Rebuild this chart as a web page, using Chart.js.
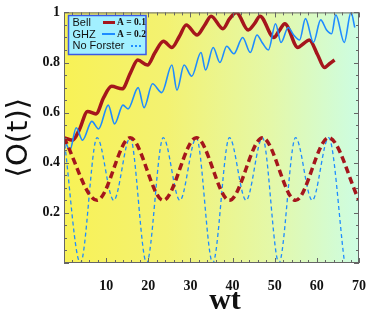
<!DOCTYPE html>
<html>
<head>
<meta charset="utf-8">
<script src="https://cdn.jsdelivr.net/npm/chart.js@4.4.0/dist/chart.umd.min.js"></script>
<style>
  body { margin: 0; background: #fff; }
  canvas { display: block; }
</style>
</head>
<body>
<canvas id="myChart" width="381" height="314"></canvas>
<script>
// Bell state, A = 0.1 (thick dark red line)
var bellT = [0, 2.0, 3.6, 5.6, 7.6, 9.4, 11.3, 13.8, 15.8, 17.5, 19.8, 21.6, 23.6, 25.6, 27.4, 29.0, 31.6, 33.4, 34.9, 37.7, 39.3, 40.9, 43.7, 45.2, 46.5, 49.8, 51.0, 52.4, 55.5, 56.8, 58.2, 60.2, 61.8, 63.0, 64.2];
var bellV = [0.5, 0.49, 0.53, 0.605, 0.595, 0.66, 0.705, 0.695, 0.76, 0.81, 0.79, 0.84, 0.885, 0.86, 0.905, 0.95, 0.91, 0.95, 0.985, 0.935, 0.975, 1.0, 0.93, 0.955, 0.985, 0.90, 0.925, 0.955, 0.86, 0.875, 0.89, 0.83, 0.78, 0.795, 0.81];

// GHZ state, A = 0.2 (thin blue line)
var ghzT = [0, 1.4, 2.9, 4.4, 6.6, 8.2, 10.5, 12.0, 14.0, 15.2, 17.6, 19.0, 21.0, 23.2, 25.6, 26.8, 28.5, 30.3, 32.5, 33.6, 35.4, 37.0, 38.6, 40.3, 42.4, 44.2, 45.8, 47.0, 48.5, 50.2, 51.5, 53.2, 54.5, 55.9, 57.3, 59.2, 60.9, 62.3, 63.5, 64.5, 66.5, 68.1, 69.0];
var ghzV = [0.5, 0.45, 0.54, 0.49, 0.565, 0.535, 0.63, 0.555, 0.63, 0.615, 0.70, 0.62, 0.715, 0.68, 0.79, 0.69, 0.79, 0.745, 0.84, 0.77, 0.86, 0.80, 0.865, 0.835, 0.90, 0.84, 0.91, 0.88, 0.85, 0.955, 0.88, 0.94, 0.91, 0.89, 0.975, 0.88, 0.97, 0.93, 0.915, 0.99, 0.88, 1.0, 0.94];

// Bell state, no Forster (thick dark red dashes)
var bellNfT = [0, 7.85, 15.7, 23.55, 31.4, 39.25, 47.1, 54.95, 62.8, 70];
var bellNfV = [0.5, 0.25, 0.5, 0.25, 0.5, 0.25, 0.5, 0.25, 0.5, 0.25];

// GHZ state, no Forster (thin blue dashes)
var ghzNfT = [0, 3.9, 7.85, 11.8, 15.7, 19.6, 23.55, 27.5, 31.4, 35.3, 39.25, 43.2, 47.1, 51.0, 54.95, 58.9, 62.8, 66.5];
var ghzNfV = [0.5, 0, 0.5, 0.25, 0.5, 0, 0.5, 0.25, 0.5, 0, 0.5, 0.25, 0.5, 0, 0.5, 0.25, 0.5, 0.01];

var xTicks = [10, 20, 30, 40, 50, 60, 70];
var yTicks = [0.2, 0.4, 0.6, 0.8, 1];

var darkRed = '#a5161c';
var blue = '#1e8cff';

function pts(ts, vs) {
  return ts.map(function (t, i) { return { x: t, y: vs[i] }; });
}

// yellow -> mint background of the plot area
var bgPlugin = {
  id: 'bg',
  beforeDraw: function (chart) {
    var ctx = chart.ctx, a = chart.chartArea;
    ctx.save();
    ctx.fillStyle = '#fff';
    ctx.fillRect(0, 0, chart.width, chart.height);
    var g = ctx.createLinearGradient(a.left, 0, a.right, 0);
    g.addColorStop(0, '#f8f256');
    g.addColorStop(0.35, '#f3f272');
    g.addColorStop(0.7, '#e4f8a8');
    g.addColorStop(1, '#cdfde2');
    ctx.fillStyle = g;
    ctx.fillRect(a.left, a.top, a.right - a.left, a.bottom - a.top);
    ctx.restore();
  }
};

// frame with inward ticks on all sides, x title, legend box
var framePlugin = {
  id: 'frame',
  afterDatasetsDraw: function (chart) {
    var ctx = chart.ctx, a = chart.chartArea;
    var xs = chart.scales.x, ys = chart.scales.y;
    ctx.save();
    ctx.strokeStyle = '#666';
    ctx.lineWidth = 1;
    ctx.beginPath();
    var i, p, len;
    for (i = 0; i <= 35; i++) {
      p = Math.round(xs.getPixelForValue(i * 2)) + 0.5;
      len = (i % 5 === 0) ? 5 : 3;
      ctx.moveTo(p, a.bottom); ctx.lineTo(p, a.bottom - len);
      ctx.moveTo(p, a.top); ctx.lineTo(p, a.top + len);
    }
    for (i = 0; i <= 20; i++) {
      p = Math.round(ys.getPixelForValue(i * 0.05)) + 0.5;
      len = (i % 4 === 0) ? 5 : 3;
      ctx.moveTo(a.left, p); ctx.lineTo(a.left + len, p);
      ctx.moveTo(a.right, p); ctx.lineTo(a.right - len, p);
    }
    ctx.stroke();
    ctx.strokeRect(a.left + 0.5, a.top + 0.5, a.right - a.left - 1, a.bottom - a.top - 1);

    // x axis title
    ctx.fillStyle = '#111';
    ctx.textAlign = 'center';
    ctx.textBaseline = 'alphabetic';
    ctx.font = 'bold 30px "Liberation Serif"';
    ctx.fillText('wt', 225, 309);

    // legend
    ctx.fillStyle = '#a2f0ff';
    ctx.fillRect(68.5, 15.5, 77.5, 39);
    ctx.strokeStyle = '#3a5ae6';
    ctx.lineWidth = 1.5;
    ctx.strokeRect(68.5, 15.5, 77.5, 39);

    ctx.fillStyle = '#111';
    ctx.textBaseline = 'middle';
    ctx.textAlign = 'left';
    ctx.font = '11px "Liberation Sans"';
    ctx.fillText('Bell', 72.5, 23);
    ctx.fillText('GHZ', 72.5, 34.5);
    ctx.fillText('No Forster', 72.5, 46);
    ctx.font = 'bold 9.5px "Liberation Serif"';
    ctx.fillText('A = 0.1', 117, 23);
    ctx.fillText('A = 0.2', 117, 34.5);

    ctx.lineWidth = 3;
    ctx.strokeStyle = darkRed;
    ctx.beginPath(); ctx.moveTo(103, 22.5); ctx.lineTo(115, 22.5); ctx.stroke();
    ctx.lineWidth = 2;
    ctx.strokeStyle = blue;
    ctx.beginPath(); ctx.moveTo(102, 34); ctx.lineTo(115, 34); ctx.stroke();
    ctx.setLineDash([2, 2]);
    ctx.beginPath(); ctx.moveTo(131, 46); ctx.lineTo(143, 46); ctx.stroke();
    ctx.restore();
  }
};

var ctx = document.getElementById('myChart').getContext('2d');
new Chart(ctx, {
  type: 'line',
  data: {
    datasets: [
      { data: pts(bellNfT, bellNfV), borderColor: darkRed, borderWidth: 3.5, borderDash: [7, 4], pointRadius: 0, cubicInterpolationMode: 'monotone', fill: false },
      { data: pts(ghzNfT, ghzNfV), borderColor: blue, borderWidth: 1.3, borderDash: [4, 3], pointRadius: 0, cubicInterpolationMode: 'monotone', fill: false },
      { data: pts(ghzT, ghzV), borderColor: blue, borderWidth: 1.6, pointRadius: 0, cubicInterpolationMode: 'monotone', fill: false },
      { data: pts(bellT, bellV), borderColor: darkRed, borderWidth: 3.5, pointRadius: 0, cubicInterpolationMode: 'monotone', fill: false }
    ]
  },
  options: {
    responsive: false,
    animation: false,
    layout: { padding: { top: 12, right: 7, left: 0, bottom: 0 } },
    plugins: { legend: { display: false }, tooltip: { enabled: false } },
    scales: {
      x: {
        type: 'linear', min: 0, max: 70,
        afterFit: function (s) { s.height = 51; },
        afterBuildTicks: function (s) { s.ticks = xTicks.map(function (v) { return { value: v }; }); },
        grid: { display: false, drawTicks: false },
        border: { display: false },
        ticks: { color: '#111', padding: 15, font: { family: 'Liberation Serif', size: 14, weight: 'bold' } },
        title: { display: false }
      },
      y: {
        min: 0, max: 1,
        afterFit: function (s) { s.width = 64; },
        afterBuildTicks: function (s) { s.ticks = yTicks.map(function (v) { return { value: v }; }); },
        grid: { display: false, drawTicks: false },
        border: { display: false },
        ticks: { color: '#111', padding: 4, font: { family: 'Liberation Serif', size: 14, weight: 'bold' },
          callback: function (v) { return String(Math.round(v * 10) / 10); } },
        title: { display: true, text: '\u27E8O(t)\u27E9', color: '#111', padding: { top: 5, bottom: 0 }, font: { family: 'DejaVu Sans', size: 29, lineHeight: 1 } }
      }
    }
  },
  plugins: [bgPlugin, framePlugin]
});
</script>
</body>
</html>
